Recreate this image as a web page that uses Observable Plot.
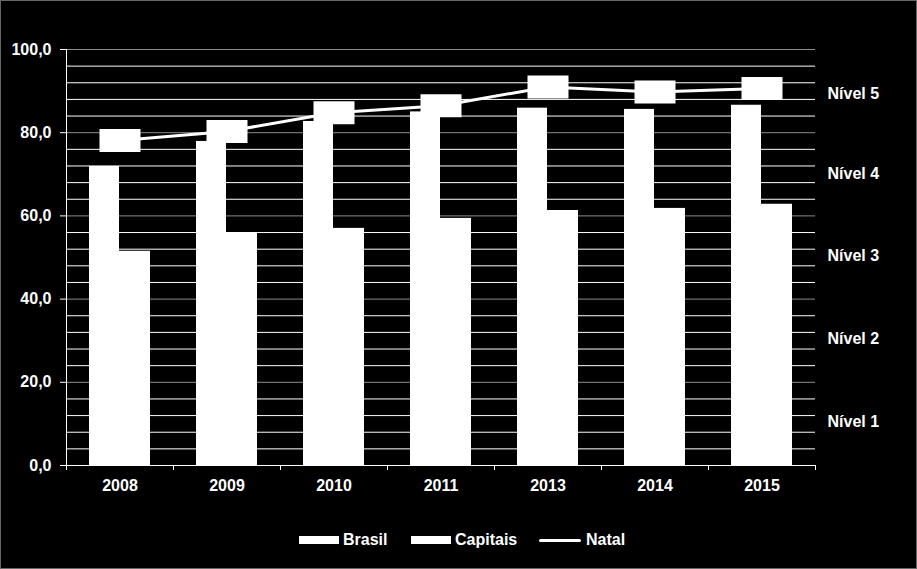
<!DOCTYPE html>
<html>
<head>
<meta charset="utf-8">
<script src="https://cdn.jsdelivr.net/npm/d3@7"></script>
<script src="https://cdn.jsdelivr.net/npm/@observablehq/plot@0.6"></script>
<style>
  html, body { margin: 0; padding: 0; background: #000; }
  #wrap { position: relative; width: 917px; height: 569px; background: #000; overflow: hidden;
          font-family: "Liberation Sans", Arial, sans-serif; font-weight: bold; color: #fff; }
  #border { position: absolute; left: 0; top: 0; width: 917px; height: 569px; box-sizing: border-box;
            border: 1px solid #666; pointer-events: none; }
  #legend { position: absolute; top: 529px; left: 0; width: 917px; height: 22px; }
  .item { position: absolute; top: 0; height: 22px; display: flex; align-items: center; font-size: 16px; }
  .sw { width: 40px; height: 8px; background: #fff; margin-right: 4px; }
  .ln { width: 42px; height: 3px; background: #fff; border-radius: 2px; margin-right: 5px; }
</style>
</head>
<body>
<div id="wrap">
  <div id="chart"></div>
  <div id="legend"></div>
  <div id="border"></div>
</div>
<script>
const years    = ["2008", "2009", "2010", "2011", "2013", "2014", "2015"];
const brasil   = [71.9, 77.9, 82.7, 85.0, 85.9, 85.6, 86.6];
const capitais = [51.5, 56.0, 57.0, 59.4, 61.3, 61.8, 62.8];
const natal    = [78.1, 80.3, 84.8, 86.5, 91.0, 89.8, 90.6];
const seriesNames = ["Brasil", "Capitais", "Natal"];
const majorTicks = [0, 20, 40, 60, 80, 100];
const minorTicks = [4, 8, 12, 16, 24, 28, 32, 36, 44, 48, 52, 56, 64, 68, 72, 76, 84, 88, 92, 96];
const nivelLabels = ["Nível 1", "Nível 2", "Nível 3", "Nível 4", "Nível 5"];
const nivelValues = [10.5, 30.5, 50.5, 70, 89.3];

const data = years.map((year, i) => ({year, brasil: brasil[i], capitais: capitais[i], natal: natal[i]}));
const niveis = nivelLabels.map((label, i) => ({label, y: nivelValues[i]}));

const W = 917, H = 510, ML = 66, MR = 102, MT = 49, MB = 45;
const bw = (W - ML - MR) / years.length;
const rectSymbol = { draw(ctx) { ctx.rect(-20.5, -11.5, 41, 23); } };
const fmt = d => d.toFixed(1).replace(".", ",");

const chart = Plot.plot({
  width: W, height: H,
  marginTop: MT, marginBottom: MB, marginLeft: ML, marginRight: MR,
  style: { background: "#000", color: "#fff", fontFamily: "'Liberation Sans', Arial, sans-serif", fontSize: "16px", fontWeight: "bold", overflow: "visible" },
  x: { domain: years, padding: 0, axis: null },
  y: { domain: [0, 100], axis: null },
  marks: [
    Plot.ruleY(minorTicks, { stroke: "#fff", strokeWidth: 1 }),
    Plot.ruleY(majorTicks.filter(d => d > 0), { stroke: "#8c8c8c", strokeWidth: 1 }),
    Plot.ruleX([years[0]], { dx: -bw / 2, stroke: "#fff" }),
    Plot.ruleX(years, { y1: 0, y2: -1.2, dx: -bw / 2, stroke: "#fff" }),
    Plot.ruleX([years[years.length - 1]], { y1: 0, y2: -1.2, dx: bw / 2, stroke: "#fff" }),
    Plot.axisY({ ticks: majorTicks, tickFormat: fmt, tickSize: 6, tickPadding: 9, stroke: "#fff", fill: "#fff", fontSize: 16, fontWeight: "bold", label: null }),
    Plot.axisX({ tickSize: 0, tickPadding: 14, fill: "#fff", fontSize: 16, fontWeight: "bold", label: null }),
    Plot.barY(data, { x: "year", y: "brasil", fill: "#fff", insetLeft: 23, insetRight: 54 }),
    Plot.barY(data, { x: "year", y: "capitais", fill: "#fff", insetLeft: 53, insetRight: 23 }),
    Plot.ruleY([0], { stroke: "#fff" }),
    Plot.line(data, { x: "year", y: "natal", stroke: "#fff", strokeWidth: 3 }),
    Plot.dot(data, { x: "year", y: "natal", symbol: rectSymbol, fill: "#fff", stroke: "none" }),
    Plot.text(niveis, { y: "y", text: "label", frameAnchor: "right", textAnchor: "start", dx: 12, fill: "#fff", fontSize: 16, fontWeight: "bold" })
  ]
});
document.getElementById("chart").appendChild(chart);

const legend = document.getElementById("legend");
const lefts = [299, 411, 539];
seriesNames.forEach((name, i) => {
  const it = document.createElement("div");
  it.className = "item";
  it.style.left = lefts[i] + "px";
  const sw = document.createElement("div");
  sw.className = i < 2 ? "sw" : "ln";
  const tx = document.createElement("span");
  tx.textContent = name;
  it.appendChild(sw); it.appendChild(tx);
  legend.appendChild(it);
});
</script>
</body>
</html>
